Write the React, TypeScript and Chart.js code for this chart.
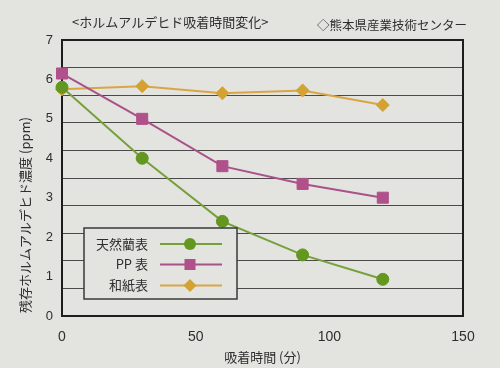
import React, { useEffect, useRef } from "react";
import { Chart, registerables } from "chart.js";

Chart.register(...registerables);

// ---- data ----
const times = [0, 30, 60, 90, 120];
const naturalRush = [5.8, 4.0, 2.4, 1.55, 0.93];
const ppSurface = [6.15, 5.0, 3.8, 3.35, 3.0];
const washiSurface = [5.75, 5.83, 5.65, 5.72, 5.35];
const seriesNames = ["天然藺表", "PP 表", "和紙表"];
const xTickValues = [0, 50, 100, 150];
const yTickValues = [0, 1, 2, 3, 4, 5, 6, 7];
const gridLineStep = 0.7;
const headerLeft = "<ホルムアルデヒド吸着時間変化>";
const headerRight = "◇熊本県産業技術センター";
const yAxisTitle = "残存ホルムアルデヒド濃度 (ppm)";
const xAxisTitle = "吸着時間 (分)";

// ---- styles ----
const BG = "#e3e3e0";
const TEXT = "#2e2e2e";
const FONT = '"Liberation Sans", "Noto Sans CJK JP", sans-serif';
const JP_FONT = '"Noto Sans CJK JP", "Liberation Sans", sans-serif';
const colors = [
  { line: "#76a03a", point: "#63971f" },
  { line: "#a9528a", point: "#b0518b" },
  { line: "#d8a645", point: "#d4a232" },
];
const pointStyles = ["circle", "rect", "rectRot"];
const pointRadii = [6, 7.8, 6.5];

function drawMarker(ctx: CanvasRenderingContext2D, style: string, x: number, y: number, r: number) {
  ctx.beginPath();
  if (style === "circle") {
    ctx.arc(x, y, r, 0, Math.PI * 2);
  } else if (style === "rect") {
    const s = Math.SQRT1_2 * r;
    ctx.rect(x - s, y - s, 2 * s, 2 * s);
  } else {
    ctx.moveTo(x, y - r);
    ctx.lineTo(x + r, y);
    ctx.lineTo(x, y + r);
    ctx.lineTo(x - r, y);
    ctx.closePath();
  }
  ctx.fill();
}

const decorPlugin = {
  id: "decor",
  beforeDraw(chart: any) {
    const ctx = chart.ctx;
    ctx.save();
    ctx.fillStyle = BG;
    ctx.fillRect(0, 0, chart.width, chart.height);
    ctx.restore();
  },
  beforeDatasetsDraw(chart: any) {
    const { ctx, chartArea: ca } = chart;
    ctx.save();
    ctx.strokeStyle = "#1e1e1e";
    ctx.lineWidth = 2;
    ctx.strokeRect(ca.left, ca.top, ca.right - ca.left, ca.bottom - ca.top);
    ctx.restore();
  },
  afterDatasetsDraw(chart: any) {
    const { ctx, chartArea: ca } = chart;
    ctx.save();
    const bx = ca.left + 22;
    const by = ca.bottom - 88;
    const bw = 153;
    const bh = 71;
    ctx.fillStyle = BG;
    ctx.fillRect(bx, by, bw, bh);
    ctx.strokeStyle = "#3a3a3a";
    ctx.lineWidth = 1.5;
    ctx.strokeRect(bx, by, bw, bh);
    const rows = [16, 36.5, 57.5];
    seriesNames.forEach((name, i) => {
      const y = by + rows[i];
      ctx.fillStyle = TEXT;
      ctx.font = `13px ${JP_FONT}`;
      ctx.textAlign = "right";
      ctx.textBaseline = "middle";
      ctx.fillText(name, bx + 64, y);
      ctx.strokeStyle = colors[i].line;
      ctx.lineWidth = 2;
      ctx.beginPath();
      ctx.moveTo(bx + 76, y);
      ctx.lineTo(bx + 138, y);
      ctx.stroke();
      ctx.fillStyle = colors[i].point;
      drawMarker(ctx, pointStyles[i], bx + 106, y, pointRadii[i]);
    });
    ctx.restore();
  },
  afterDraw(chart: any) {
    const ctx = chart.ctx;
    ctx.save();
    ctx.fillStyle = TEXT;
    ctx.textBaseline = "middle";
    ctx.textAlign = "left";
    ctx.font = `13px ${JP_FONT}`;
    ctx.fillText(headerLeft, 72, 22);
    ctx.font = `12.5px ${JP_FONT}`;
    ctx.fillText(headerRight, 317, 25);
    ctx.translate(25, 215);
    ctx.rotate(-Math.PI / 2);
    ctx.textAlign = "center";
    ctx.font = `13px ${JP_FONT}`;
    ctx.fillText(yAxisTitle, 0, 0);
    ctx.restore();
  },
};

export default function App() {
  const canvasRef = useRef<HTMLCanvasElement | null>(null);

  useEffect(() => {
    const canvas = canvasRef.current;
    if (!canvas) return;
    const series = [naturalRush, ppSurface, washiSurface];
    const chart = new Chart(canvas, {
      type: "line",
      data: {
        datasets: series.map((vals, i) => ({
          label: seriesNames[i],
          data: times.map((t, j) => ({ x: t, y: vals[j] })),
          borderColor: colors[i].line,
          backgroundColor: colors[i].point,
          pointBackgroundColor: colors[i].point,
          pointBorderColor: colors[i].point,
          pointBorderWidth: 1,
          borderWidth: 2,
          pointStyle: pointStyles[i] as any,
          pointRadius: pointRadii[i],
          tension: 0,
          clip: false as any,
        })),
      },
      options: {
        animation: false,
        responsive: false,
        maintainAspectRatio: false,
        layout: { padding: { top: 40, right: 37, left: 0, bottom: 0 } },
        plugins: {
          legend: { display: false },
          tooltip: { enabled: false },
          title: { display: false },
        },
        scales: {
          x: {
            type: "linear",
            position: "bottom",
            min: 0,
            max: 150,
            afterBuildTicks: (scale: any) => {
              scale.ticks = xTickValues.map((v) => ({ value: v }));
            },
            afterFit: (scale: any) => {
              scale.height = 52;
            },
            grid: { display: false, drawTicks: false },
            border: { display: false },
            ticks: {
              padding: 13,
              color: TEXT,
              font: { family: FONT, size: 14 },
              maxRotation: 0,
            },
            title: {
              display: true,
              text: xAxisTitle,
              color: TEXT,
              font: { family: JP_FONT, size: 13 },
              padding: { top: 0, bottom: 3 },
            },
          },
          y: {
            type: "linear",
            position: "left",
            min: 0,
            max: 7,
            afterBuildTicks: (scale: any) => {
              scale.ticks = yTickValues.map((v) => ({ value: v }));
            },
            afterFit: (scale: any) => {
              scale.width = 62;
            },
            grid: { display: false, drawTicks: false },
            border: { display: false },
            ticks: {
              padding: 9,
              color: TEXT,
              font: { family: FONT, size: 13 },
            },
          },
          yGrid: {
            type: "linear",
            position: "right",
            min: 0,
            max: 7,
            afterBuildTicks: (scale: any) => {
              const t = [];
              for (let k = 0; k <= Math.round(7 / gridLineStep); k++) t.push({ value: k * gridLineStep });
              scale.ticks = t;
            },
            afterFit: (scale: any) => {
              scale.width = 0;
            },
            grid: { display: true, drawTicks: false, color: "#4a4a4a", lineWidth: 1 },
            border: { display: false },
            ticks: { display: false },
          },
        },
      },
      plugins: [decorPlugin],
    });
    return () => chart.destroy();
  }, []);

  return (
    <div style={{ position: "fixed", left: 0, top: 0, width: 500, height: 368, background: BG }}>
      <canvas ref={canvasRef} width={500} height={368} style={{ width: 500, height: 368, display: "block" }} />
    </div>
  );
}
